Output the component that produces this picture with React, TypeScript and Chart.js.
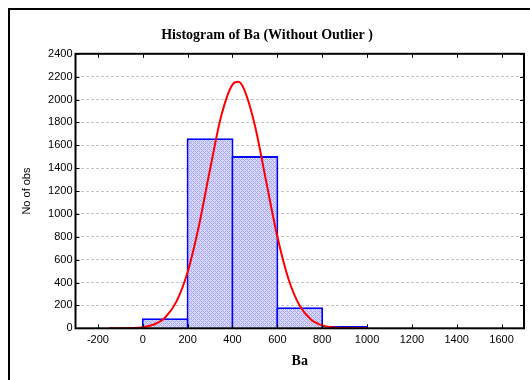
import React, { useEffect, useRef } from 'react';
import { Chart, registerables } from 'chart.js';

Chart.register(...registerables);

const chartTitle = 'Histogram of Ba (Without Outlier )';
const xTitle = 'Ba';
const yTitle = 'No of obs';

// histogram bins (centre of each 200-wide bin) and counts
const binCenters = [100, 300, 500, 700, 900, 1100, 1300];
const binCounts = [87, 1662, 1507, 184, 20, 8, 3];

// fitted normal curve
const curveX = [-150, -100, -50, 0, 50, 100, 150, 200, 250, 300, 350, 400, 425, 450, 500, 550, 600, 650, 700, 750, 800, 850, 900, 950, 1000];
const curveY = [0, 0.6, 2.5, 10, 33, 95, 233, 492, 893, 1390, 1858, 2131, 2155, 2098, 1774, 1287, 802, 429, 197, 78, 26, 8, 2, 0.5, 0];

const xTicks = [-200, 0, 200, 400, 600, 800, 1000, 1200, 1400, 1600];
const yTicks = [0, 200, 400, 600, 800, 1000, 1200, 1400, 1600, 1800, 2000, 2200, 2400];
const xMin = -300;
const xMax = 1700;
const yMin = 0;
const yMax = 2400;

const sans = "'Liberation Sans', Arial, sans-serif";
const serif = "'Liberation Serif', 'Times New Roman', serif";

const framePlugin = {
  id: 'frame',
  afterDraw(chart: any) {
    const { ctx, chartArea } = chart;
    const { left, right, top, bottom } = chartArea;
    const xs = chart.scales.x;
    const ys = chart.scales.y;
    ctx.save();
    ctx.strokeStyle = '#000';
    ctx.lineWidth = 1;
    ctx.beginPath();
    xTicks.forEach((v) => {
      const px = Math.round(xs.getPixelForValue(v)) + 0.5;
      ctx.moveTo(px, top);
      ctx.lineTo(px, top + 4);
      ctx.moveTo(px, bottom);
      ctx.lineTo(px, bottom - 4);
    });
    yTicks.forEach((v) => {
      const py = Math.round(ys.getPixelForValue(v)) + 0.5;
      ctx.moveTo(left, py);
      ctx.lineTo(left + 4, py);
      ctx.moveTo(right, py);
      ctx.lineTo(right - 4, py);
    });
    ctx.stroke();
    ctx.lineWidth = 2;
    ctx.strokeRect(left, top, right - left, bottom - top);
    ctx.restore();
  },
};

function makePattern(): any {
  const pc = document.createElement('canvas');
  pc.width = 4;
  pc.height = 4;
  const p = pc.getContext('2d')!;
  p.fillStyle = '#d8d8ff';
  p.fillRect(0, 0, 4, 4);
  p.fillStyle = '#a8a8f4';
  for (let x = 0; x < 4; x++) {
    for (let y = 0; y < 4; y++) {
      if ((x + y) % 4 === 0 || (x - y + 4) % 4 === 0) p.fillRect(x, y, 1, 1);
    }
  }
  const c = document.createElement('canvas').getContext('2d')!;
  return c.createPattern(pc, 'repeat');
}

export default function App() {
  const ref = useRef<HTMLCanvasElement>(null);

  useEffect(() => {
    if (!ref.current) return;
    const pattern = makePattern();
    const chart = new Chart(ref.current, {
      type: 'bar',
      data: {
        datasets: [
          {
            type: 'line',
            data: curveX.map((x, i) => ({ x, y: curveY[i] })),
            borderColor: '#ff0000',
            borderWidth: 2,
            pointRadius: 0,
            fill: false,
            cubicInterpolationMode: 'monotone',
            order: 0,
          } as any,
          {
            type: 'bar',
            data: binCenters.map((x, i) => ({ x, y: binCounts[i] })),
            backgroundColor: pattern,
            borderColor: '#0000ff',
            borderWidth: 2,
            barPercentage: 1.045,
            categoryPercentage: 1,
            order: 1,
          } as any,
        ],
      },
      options: {
        responsive: false,
        animation: false,
        layout: { padding: { left: 0, right: 2, top: 0, bottom: 0 } },
        plugins: {
          legend: { display: false },
          tooltip: { enabled: false },
          title: {
            display: true,
            text: chartTitle,
            color: '#000',
            font: { family: serif, size: 14, weight: 'bold' },
            padding: { top: 17, bottom: 10 },
          },
        },
        scales: {
          x: {
            type: 'linear',
            min: xMin,
            max: xMax,
            offset: false,
            afterBuildTicks: (s: any) => {
              s.ticks = xTicks.map((v) => ({ value: v }));
            },
            afterFit: (s: any) => {
              s.height = 51.7;
            },
            grid: { display: false, drawTicks: false },
            border: { display: false },
            ticks: {
              color: '#000',
              font: { family: sans, size: 11 },
              padding: 5,
              autoSkip: false,
              maxRotation: 0,
              callback: (v: any) => String(v),
            },
            title: {
              display: true,
              text: xTitle,
              color: '#000',
              font: { family: serif, size: 14, weight: 'bold' },
              padding: { top: 0, bottom: 10 },
            },
          },
          y: {
            type: 'linear',
            min: yMin,
            max: yMax,
            afterBuildTicks: (s: any) => {
              s.ticks = yTicks.map((v) => ({ value: v }));
            },
            afterFit: (s: any) => {
              s.width = 65.5;
            },
            grid: { color: '#c4c4c4', lineWidth: 1, drawTicks: false },
            border: { display: false, dash: [3, 2] },
            ticks: {
              color: '#000',
              font: { family: sans, size: 11 },
              padding: 3,
              autoSkip: false,
              callback: (v: any) => String(v),
            },
            title: {
              display: true,
              text: yTitle,
              color: '#000',
              font: { family: sans, size: 11 },
              padding: { top: 10, bottom: 0 },
            },
          },
        },
      } as any,
      plugins: [framePlugin],
    });
    return () => chart.destroy();
  }, []);

  return (
    <div
      style={{
        position: 'fixed',
        left: 8,
        top: 8,
        width: 540,
        height: 390,
        borderLeft: '2px solid #000',
        borderTop: '2px solid #000',
        background: '#fff',
      }}
    >
      <canvas ref={ref} width={516} height={370} style={{ display: 'block' }} />
    </div>
  );
}
